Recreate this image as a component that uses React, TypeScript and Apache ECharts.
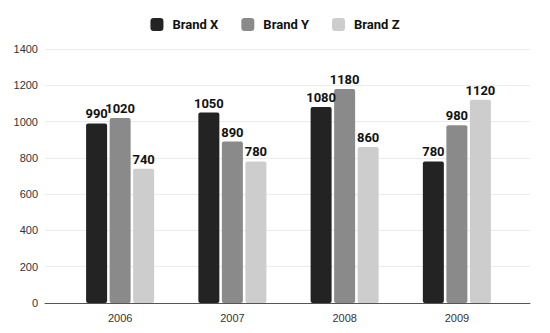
import React, { useEffect, useRef } from "react";
import * as echarts from "echarts";

const categories = ["2006", "2007", "2008", "2009"];
const seriesNames = ["Brand X", "Brand Y", "Brand Z"];
const brandX = [990, 1050, 1080, 780];
const brandY = [1020, 890, 1180, 980];
const brandZ = [740, 780, 860, 1120];
const yTicks = { min: 0, max: 1400, interval: 200 };
const colors = ["#232323", "#8a8a8a", "#cdcdcd"];

export default function App() {
  const ref = useRef<HTMLDivElement>(null);
  useEffect(() => {
    if (!ref.current) return;
    const chart = echarts.init(ref.current, undefined, { renderer: "svg" });
    const data = [brandX, brandY, brandZ];
    chart.setOption({
      animation: false,
      color: colors,
      legend: {
        top: 13,
        left: "center",
        itemWidth: 13,
        itemHeight: 13,
        itemGap: 23,
        icon: "roundRect",
        textStyle: {
          fontFamily: "Roboto",
          fontWeight: "bold",
          fontSize: 13,
          color: "#111",
          padding: [0, 0, 0, 4],
        },
        data: seriesNames,
      },
      grid: [
        { left: 45, right: 20, top: 49, bottom: 30, containLabel: false },
        { left: 64, right: 37, top: 49, bottom: 30, containLabel: false },
      ],
      xAxis: [
        {
          type: "category",
          gridIndex: 0,
          data: categories,
          axisLine: { show: true, lineStyle: { color: "#555", width: 1 } },
          axisTick: { show: false },
          axisLabel: { show: false },
          z: 5,
        },
        {
          type: "category",
          gridIndex: 1,
          data: categories,
          axisLine: { show: false },
          axisTick: { show: false },
          axisLabel: {
            margin: 9,
            fontFamily: "Liberation Sans",
            fontSize: 11,
            color: "#333",
          },
        },
      ],
      yAxis: [
        {
          type: "value",
          gridIndex: 0,
          min: yTicks.min,
          max: yTicks.max,
          interval: yTicks.interval,
          axisLine: { show: false },
          axisTick: { show: false },
          splitLine: { lineStyle: { color: "#ebebeb", width: 1 } },
          axisLabel: {
            margin: 7,
            fontFamily: "Liberation Sans",
            fontSize: 11,
            color: "#333",
            formatter: (v: number) => String(v),
          },
        },
        {
          type: "value",
          gridIndex: 1,
          min: yTicks.min,
          max: yTicks.max,
          interval: yTicks.interval,
          show: false,
          splitLine: { show: false },
        },
      ],
      series: seriesNames.map((name, i) => ({
        name,
        type: "bar",
        xAxisIndex: 1,
        yAxisIndex: 1,
        data: data[i],
        barWidth: 21,
        barGap: "12%",
        itemStyle: { color: colors[i], borderRadius: 2 },
        label: {
          show: true,
          position: "top",
          distance: 3,
          fontFamily: "Roboto",
          fontWeight: "bold",
          fontSize: 13,
          color: "#111",
        },
      })),
    });
    return () => chart.dispose();
  }, []);
  return <div ref={ref} style={{ width: 550, height: 333, position: "absolute", left: 0, top: 0 }} />;
}
